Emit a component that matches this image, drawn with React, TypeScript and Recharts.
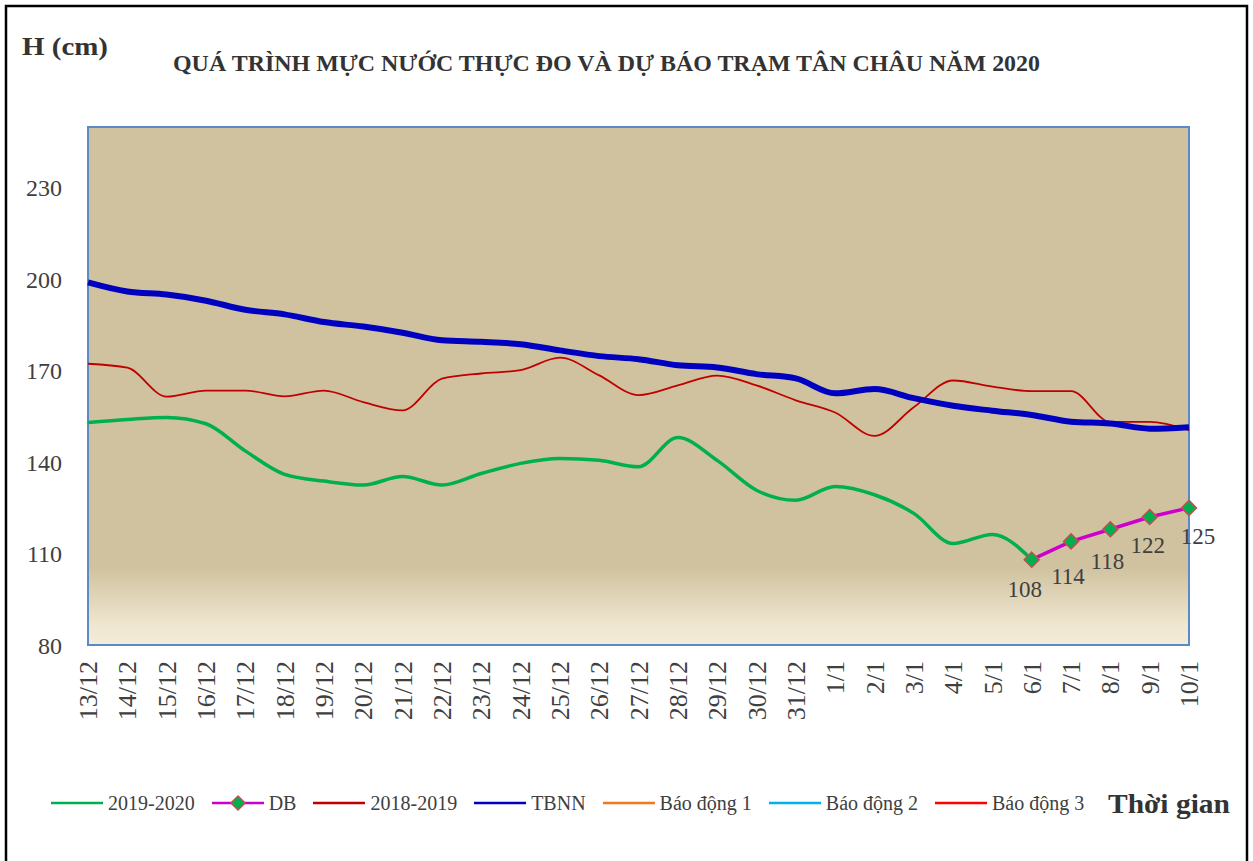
import { LineChart, Line, XAxis, YAxis, CartesianGrid, ReferenceArea, LabelList } from 'recharts';

const SERIF = '"Liberation Serif", "Times New Roman", serif';
const TEXT = '#404040';

// ngày quan trắc / dự báo
const categories = [
  '13/12', '14/12', '15/12', '16/12', '17/12', '18/12', '19/12', '20/12', '21/12', '22/12',
  '23/12', '24/12', '25/12', '26/12', '27/12', '28/12', '29/12', '30/12', '31/12',
  '1/1', '2/1', '3/1', '4/1', '5/1', '6/1', '7/1', '8/1', '9/1', '10/1',
];

// mực nước thực đo 2019-2020 (cm)
const obs2019 = [
  153, 154, 154.7, 152.6, 143.7, 136, 133.8, 132.5, 135.3, 132.5,
  136.3, 139.6, 141.2, 140.6, 138.5, 148.1, 140.6, 130.8, 127.5,
  132, 129.3, 123.2, 113.3, 116.3, 108, null, null, null, null,
];

// dự báo
const forecast = [
  null, null, null, null, null, null, null, null, null, null,
  null, null, null, null, null, null, null, null, null,
  null, null, null, null, null, 108, 114, 118, 122, 125,
];

// cùng kỳ 2018-2019
const obs2018 = [
  172.3, 171, 161.5, 163.5, 163.5, 161.6, 163.5, 159.7, 157, 167.4,
  169.1, 170.2, 174.3, 168.5, 162, 165.2, 168.4, 165.2, 160.3,
  156.3, 148.6, 158, 166.8, 164.8, 163.3, 163.3, 153.2, 153.2, 150.5,
];

// trung bình nhiều năm
const tbnn = [
  199, 196, 195, 193, 190, 188.5, 186, 184.5, 182.5, 180,
  179.5, 178.7, 176.7, 174.8, 173.8, 171.8, 171.1, 168.9, 167.5,
  162.6, 164, 161, 158.5, 156.9, 155.5, 153.3, 152.7, 151, 151.5,
];

const yTicks = [80, 110, 140, 170, 200, 230];

const legendItems = [
  { name: '2019-2020', color: '#00b050', diamond: false },
  { name: 'DB', color: '#cc00cc', diamond: true },
  { name: '2018-2019', color: '#c00000', diamond: false },
  { name: 'TBNN', color: '#0000c0', diamond: false },
  { name: 'Báo động 1', color: '#f07820', diamond: false },
  { name: 'Báo động 2', color: '#00b0f0', diamond: false },
  { name: 'Báo động 3', color: '#ff0000', diamond: false },
];

// nudges for the forecast value labels (dx, dy)
const labelNudges: [number, number][] = [[-7, 30], [-3, 35], [-3, 32], [-2, 28], [9, 29]];

const data = categories.map((date, i) => ({
  date,
  s2019: obs2019[i],
  db: forecast[i],
  s2018: obs2018[i],
  tbnn: tbnn[i],
}));

const firstDb = forecast.findIndex((v) => v != null);

function XTick({ x, y, payload }: any) {
  return (
    <g transform={`translate(${x},${y})`}>
      <text
        transform="rotate(-90)"
        x={-16}
        dy="0.35em"
        textAnchor="end"
        fill={TEXT}
        fontSize={26}
        fontFamily={SERIF}
      >
        {payload.value}
      </text>
    </g>
  );
}

function Diamond({ cx, cy, index }: any) {
  if (cx == null || cy == null) return <g key={`d-${index}`} />;
  const r = 7.5;
  return (
    <polygon
      key={`d-${index}`}
      points={`${cx},${cy - r} ${cx + r},${cy} ${cx},${cy + r} ${cx - r},${cy}`}
      fill="#00b050"
      stroke="#c0504d"
      strokeWidth={1.5}
    />
  );
}

function DbLabel({ x, y, value, index }: any) {
  if (value == null) return null;
  const [dx, dy] = labelNudges[index - firstDb] ?? [0, 30];
  return (
    <text
      x={x + dx}
      y={y + dy}
      textAnchor="middle"
      dominantBaseline="central"
      fill={TEXT}
      fontSize={23}
      fontFamily={SERIF}
    >
      {value}
    </text>
  );
}

function LegendRow() {
  return (
    <div
      style={{
        position: 'absolute',
        left: 51,
        top: 791,
        display: 'flex',
        alignItems: 'center',
        gap: 17,
        fontFamily: SERIF,
        fontSize: 20,
        color: TEXT,
        whiteSpace: 'nowrap',
      }}
    >
      {legendItems.map((it) => (
        <div key={it.name} style={{ display: 'flex', alignItems: 'center' }}>
          <svg width={52} height={24} style={{ marginRight: 5 }}>
            <line x1={0} y1={12} x2={52} y2={12} stroke={it.color} strokeWidth={2.5} />
            {it.diamond && (
              <polygon points="26,5 33,12 26,19 19,12" fill="#00b050" stroke="#c0504d" strokeWidth={1.5} />
            )}
          </svg>
          <span>{it.name}</span>
        </div>
      ))}
    </div>
  );
}

export default function App() {
  return (
    <div style={{ position: 'absolute', left: 0, top: 0, width: 1253, height: 861, background: '#fff', overflow: 'hidden' }}>
      <LineChart width={1253} height={861} data={data} margin={{ top: 127, right: 64, bottom: 116, left: 0 }}>
        <defs>
          <linearGradient id="plotBg" x1="0" y1="0" x2="0" y2="1">
            <stop offset="0" stopColor="#d0c29f" />
            <stop offset="0.85" stopColor="#d0c29f" />
            <stop offset="0.96" stopColor="#efe6cf" />
            <stop offset="1" stopColor="#f3ecd9" />
          </linearGradient>
        </defs>
        <CartesianGrid horizontal={false} vertical={false} fill="url(#plotBg)" />
        <XAxis
          dataKey="date"
          interval={0}
          tickLine={false}
          axisLine={false}
          tickSize={0}
          tickMargin={0}
          height={100}
          tick={<XTick />}
        />
        <YAxis
          domain={[80, 250]}
          ticks={yTicks}
          width={88}
          tickLine={false}
          axisLine={false}
          tickSize={0}
          tickMargin={26}
          tick={{ fill: TEXT, fontSize: 24, fontFamily: SERIF }}
        />
        <ReferenceArea
          x1={categories[0]}
          x2={categories[categories.length - 1]}
          y1={80}
          y2={250}
          fill="none"
          stroke="#5b8bc6"
          strokeWidth={2}
          ifOverflow="visible"
        />
        <Line type="monotone" dataKey="s2018" stroke="#c00000" strokeWidth={1.8} dot={false} isAnimationActive={false} />
        <Line type="monotone" dataKey="s2019" stroke="#00b050" strokeWidth={3.5} dot={false} isAnimationActive={false} />
        <Line type="monotone" dataKey="tbnn" stroke="#0000c0" strokeWidth={6} dot={false} isAnimationActive={false} />
        <Line
          type="linear"
          dataKey="db"
          stroke="#cc00cc"
          strokeWidth={3.5}
          dot={<Diamond />}
          isAnimationActive={false}
        >
          <LabelList dataKey="db" content={<DbLabel />} />
        </Line>
      </LineChart>

      <svg width={1253} height={861} style={{ position: 'absolute', left: 0, top: 0, pointerEvents: 'none' }}>
        <rect x={6} y={6} width={1241} height={900} fill="none" stroke="#000" strokeWidth={2.5} />
        <text x={22} y={55} fontFamily={SERIF} fontWeight="bold" fontSize={26} fill="#333" textLength={86} lengthAdjust="spacingAndGlyphs">
          H (cm)
        </text>
        <text x={173} y={71} fontFamily={SERIF} fontWeight="bold" fontSize={23} fill="#333" textLength={867} lengthAdjust="spacingAndGlyphs">
          QUÁ TRÌNH MỰC NƯỚC THỰC ĐO VÀ DỰ BÁO TRẠM TÂN CHÂU NĂM 2020
        </text>
        <text x={1108} y={813} fontFamily={SERIF} fontWeight="bold" fontSize={28} fill="#333" textLength={122} lengthAdjust="spacingAndGlyphs">
          Thời gian
        </text>
      </svg>

      <LegendRow />
    </div>
  );
}
